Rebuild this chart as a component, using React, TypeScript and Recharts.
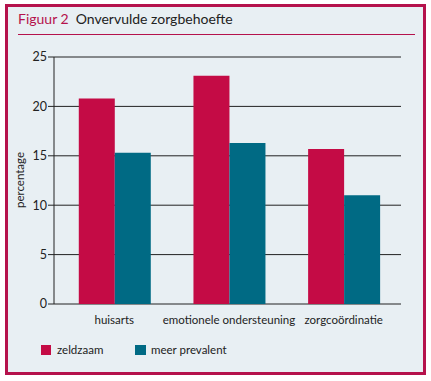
import React from 'react';
import { BarChart, Bar, XAxis, YAxis, CartesianGrid, Legend } from 'recharts';

// waarden
const categories = ['huisarts', 'emotionele ondersteuning', 'zorgcoördinatie'];
const zeldzaam = [20.8, 23.1, 15.7];
const meerPrevalent = [15.3, 16.3, 11.0];
const yTicks = [0, 5, 10, 15, 20, 25];
const boundaryTicks = [0, 1, 2, 3];

const RED = '#c40b45';
const TEAL = '#006a84';
const FRAME = '#b5124c';
const BG = '#e8eff3';
const INK = '#222';
const FONT = 'Lato, "Open Sans", sans-serif';

const data = categories.map((name, i) => ({
    name,
    zeldzaam: zeldzaam[i],
    meer: meerPrevalent[i],
}));

const LegendContent = () => (
    <div style={{ display: 'flex', fontFamily: FONT, fontSize: 11.5, color: INK }}>
        <div style={{ display: 'flex', alignItems: 'center', width: 94 }}>
            <span style={{ width: 10, height: 10, background: RED, marginRight: 6 }} />
            zeldzaam
        </div>
        <div style={{ display: 'flex', alignItems: 'center' }}>
            <span style={{ width: 11, height: 10, background: TEAL, marginRight: 5 }} />
            meer prevalent
        </div>
    </div>
);

const YLabel = () => (
    <text
        x={24}
        y={180}
        transform="rotate(-90 24 180)"
        textAnchor="middle"
        fontFamily={FONT}
        fontSize={11.5}
        fill={INK}
    >
        percentage
    </text>
);

const App: React.FC = () => {
    return (
        <div style={{ position: 'absolute', left: 0, top: 0, width: 431, height: 381, background: '#fff' }}>
            <div
                style={{
                    position: 'absolute',
                    left: 5,
                    top: 4,
                    width: 415,
                    height: 365,
                    border: `3px solid ${FRAME}`,
                    background: BG,
                }}
            />
            <div
                style={{
                    position: 'absolute',
                    left: 18,
                    top: 10,
                    fontFamily: FONT,
                    fontSize: 14,
                    color: INK,
                }}
            >
                <span style={{ color: FRAME }}>Figuur 2</span>
                <span style={{ marginLeft: 7 }}>Onvervulde zorgbehoefte</span>
            </div>
            <div style={{ position: 'absolute', left: 18, top: 34, width: 397, height: 1, background: FRAME }} />
            <div style={{ position: 'absolute', left: 0, top: 0 }}>
                <BarChart
                    width={431}
                    height={381}
                    data={data}
                    margin={{ top: 57, right: 30, bottom: 47, left: 0 }}
                    barCategoryGap="19%"
                    barGap={0}
                >
                    <CartesianGrid horizontal vertical={false} stroke={INK} strokeOpacity={1} yAxisId="left" />
                    <XAxis
                        xAxisId="bounds"
                        type="number"
                        domain={[0, 3]}
                        ticks={boundaryTicks}
                        tick={false}
                        height={0}
                        tickSize={5}
                        stroke={INK}
                        allowDataOverflow
                    />
                    <XAxis
                        xAxisId="cat"
                        dataKey="name"
                        height={30}
                        axisLine={false}
                        tickLine={false}
                        tickMargin={6}
                        interval={0}
                        padding={{ left: 3, right: 0 }}
                        tick={{ fill: INK, fontSize: 11.5, fontFamily: FONT }}
                    />
                    <YAxis
                        yAxisId="left"
                        domain={[0, 25]}
                        ticks={yTicks}
                        width={54}
                        tickSize={6}
                        tickMargin={1}
                        stroke={INK}
                        tick={{ fill: INK, fontSize: 12.5, fontFamily: FONT }}
                        label={<YLabel />}
                    />
                    <YAxis
                        yAxisId="right"
                        orientation="right"
                        domain={[0, 25]}
                        width={0}
                        tick={false}
                        tickLine={false}
                        stroke={INK}
                    />
                    <Legend
                        verticalAlign="middle"
                        align="center"
                        layout="horizontal"
                        wrapperStyle={{ left: 41, top: 343, width: 250, height: 14 }}
                        content={<LegendContent />}
                    />
                    <Bar dataKey="zeldzaam" name="zeldzaam" xAxisId="cat" yAxisId="left" fill={RED} isAnimationActive={false} />
                    <Bar dataKey="meer" name="meer prevalent" xAxisId="cat" yAxisId="left" fill={TEAL} isAnimationActive={false} />
                </BarChart>
            </div>
        </div>
    );
};

export default App;
